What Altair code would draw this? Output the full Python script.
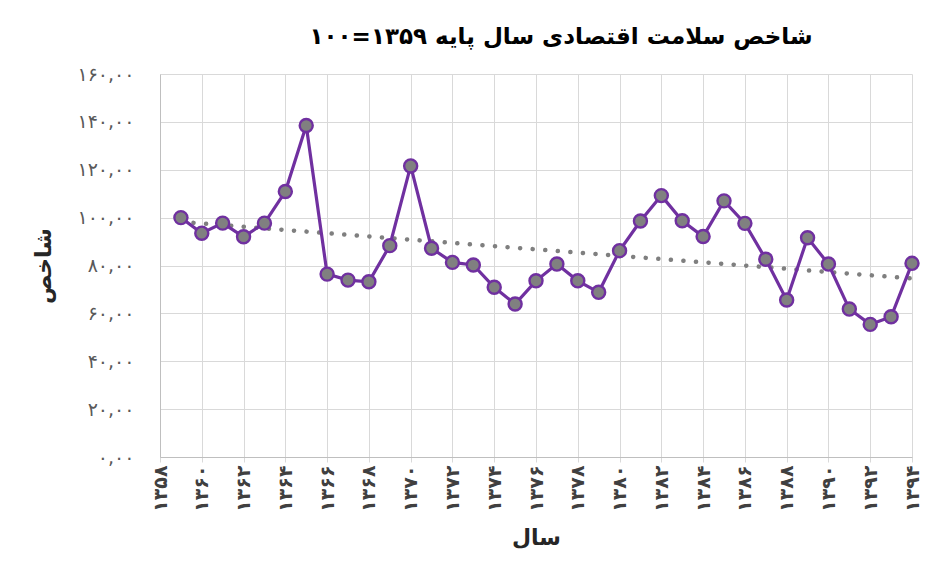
import altair as alt
import pandas as pd

years = [1359, 1360, 1361, 1362, 1363, 1364, 1365, 1366, 1367, 1368, 1369, 1370,
         1371, 1372, 1373, 1374, 1375, 1376, 1377, 1378, 1379, 1380, 1381, 1382,
         1383, 1384, 1385, 1386, 1387, 1388, 1389, 1390, 1391, 1392, 1393, 1394]
index_values = [100.0, 93.5, 97.7, 92.0, 97.7, 110.9, 138.5, 76.4, 73.9, 73.2, 88.3, 121.6,
                87.2, 81.3, 80.2, 70.9, 63.9, 73.6, 80.6, 73.6, 68.8, 86.2, 98.6, 109.2,
                98.7, 92.1, 107.0, 97.6, 82.6, 65.6, 91.6, 80.6, 61.8, 55.4, 58.6, 80.9]

x_tick_values = [1358, 1360, 1362, 1364, 1366, 1368, 1370, 1372, 1374, 1376,
                 1378, 1380, 1382, 1384, 1386, 1388, 1390, 1392, 1394]
x_tick_labels = ["۱۳۵۸", "۱۳۶۰", "۱۳۶۲", "۱۳۶۴", "۱۳۶۶", "۱۳۶۸", "۱۳۷۰", "۱۳۷۲", "۱۳۷۴", "۱۳۷۶",
                 "۱۳۷۸", "۱۳۸۰", "۱۳۸۲", "۱۳۸۴", "۱۳۸۶", "۱۳۸۸", "۱۳۹۰", "۱۳۹۲", "۱۳۹۴"]
y_tick_values = [0, 20, 40, 60, 80, 100, 120, 140, 160]
y_tick_labels = ["۰,۰۰", "۲۰,۰۰", "۴۰,۰۰", "۶۰,۰۰", "۸۰,۰۰", "۱۰۰,۰۰", "۱۲۰,۰۰", "۱۴۰,۰۰", "۱۶۰,۰۰"]

title_text = "شاخص سلامت اقتصادی سال پایه ۱۳۵۹=۱۰۰"
x_title = "سال"
y_title = "شاخص"

FONT = "DejaVu Sans"


def label_expr(values, labels):
    expr = "''"
    for v, l in reversed(list(zip(values, labels))):
        expr = f"datum.value == {v} ? '{l}' : ({expr})"
    return expr


df = pd.DataFrame({"year": years, "value": index_values})

x_enc = alt.X(
    "year:Q",
    scale=alt.Scale(domain=[1358, 1394], nice=False, zero=False),
    axis=alt.Axis(
        values=x_tick_values,
        labelExpr=label_expr(x_tick_values, x_tick_labels),
        labelAngle=270,
        labelFont=FONT,
        labelFontSize=19,
        labelFontWeight="bold",
        labelColor="#404040",
        labelPadding=3,
        tickSize=5,
        tickColor="#d9d9d9",
        domainColor="#bfbfbf",
        gridColor="#d9d9d9",
        title=x_title,
        titleFont=FONT,
        titleFontSize=22,
        titleFontWeight="bold",
        titleColor="#262626",
        titleY=80,
        titleBaseline="middle",
        labelFlush=False,
        labelOverlap=False,
    ),
)
y_enc = alt.Y(
    "value:Q",
    scale=alt.Scale(domain=[0, 160], nice=False),
    axis=alt.Axis(
        values=y_tick_values,
        labelExpr=label_expr(y_tick_values, y_tick_labels),
        labelFont=FONT,
        labelFontSize=19,
        labelColor="#595959",
        labelPadding=26,
        ticks=False,
        domainColor="#bfbfbf",
        gridColor="#d9d9d9",
        title=y_title,
        titleFont=FONT,
        titleFontSize=22,
        titleFontWeight="bold",
        titleColor="#262626",
        titleX=-117,
        titleBaseline="middle",
        labelFlush=False,
        labelOverlap=False,
    ),
)

base = alt.Chart(df)

trend = base.transform_regression("year", "value", method="linear").mark_line(
    color="#7f7f7f", strokeWidth=4.5, strokeDash=[0.1, 12.5], strokeCap="round"
).encode(x=x_enc, y=y_enc)

line = base.mark_line(color="#7030A0", strokeWidth=3.2).encode(x=x_enc, y=y_enc)

points = base.mark_point(
    shape="circle", filled=True, size=170, fill="#808080", fillOpacity=1,
    stroke="#7030A0", strokeWidth=2.4, opacity=1
).encode(x=x_enc, y=y_enc)

chart = alt.layer(trend, line, points).properties(
    width=752,
    height=383,
    autosize="none",
    padding={"left": 152, "top": 66, "right": 30, "bottom": 100},
    title=alt.TitleParams(
        text=title_text,
        font=FONT,
        fontSize=23,
        fontWeight="bold",
        color="#000000",
        anchor="middle",
        dx=25,
        offset=16,
    ),
).configure_view(stroke=None)

chart.save("out.html", embed_options={"renderer": "svg", "actions": False})
